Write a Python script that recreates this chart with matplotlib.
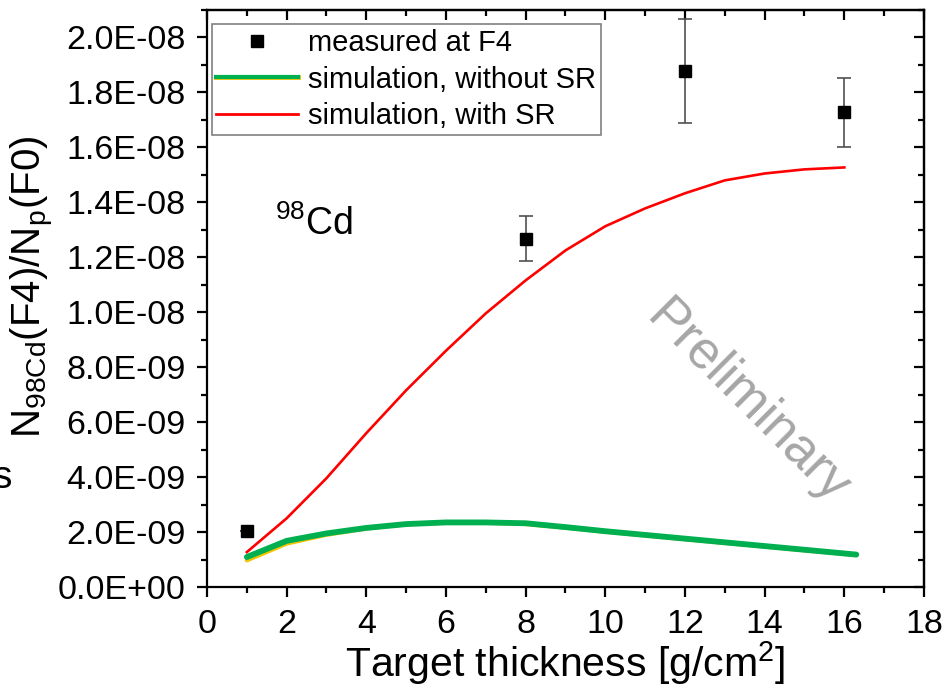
import matplotlib
matplotlib.use("Agg")
import matplotlib.pyplot as plt
from matplotlib.ticker import MultipleLocator, FuncFormatter
from matplotlib.lines import Line2D

plt.rcParams['font.family'] = ['Liberation Sans', 'DejaVu Sans']
plt.rcParams['mathtext.fontset'] = 'custom'
plt.rcParams['mathtext.rm'] = 'Liberation Sans'
plt.rcParams['mathtext.it'] = 'Liberation Sans'

# measured data
meas_x = [1, 8, 12, 16]
meas_y = [2.04e-9, 1.267e-8, 1.878e-8, 1.727e-8]
meas_err = [0.0, 0.082e-8, 0.19e-8, 0.126e-8]

# simulation with SR
sr_x = [1, 2, 3, 4, 5, 6, 7, 8, 9, 10, 11, 12, 13, 14, 15, 16]
sr_y = [1.27e-9, 2.5e-9, 3.96e-9, 5.6e-9, 7.16e-9, 8.6e-9, 9.96e-9, 1.116e-8,
        1.225e-8, 1.313e-8, 1.378e-8, 1.433e-8, 1.48e-8, 1.505e-8, 1.52e-8, 1.527e-8]

# simulation without SR (two overlapping curves)
nosr_x = [1, 2, 3, 4, 5, 6, 7, 8, 9, 10, 12, 14, 16.3]
nosr_y_green = [1.09e-9, 1.68e-9, 1.95e-9, 2.15e-9, 2.29e-9, 2.35e-9, 2.35e-9, 2.32e-9,
                2.18e-9, 2.03e-9, 1.76e-9, 1.49e-9, 1.18e-9]
nosr_y_yellow = [0.97e-9, 1.58e-9, 1.9e-9, 2.13e-9, 2.28e-9, 2.34e-9, 2.34e-9, 2.29e-9,
                 2.16e-9, 2.01e-9, 1.74e-9, 1.47e-9, 1.16e-9]

fig = plt.figure(figsize=(9.53, 6.95), dpi=100)
ax = fig.add_axes([207/953, 1-587/695, (924-207)/953, (587-10)/695])

ax.plot(sr_x, sr_y, color='#ff0000', lw=1.9, zorder=3)
ax.plot(nosr_x, nosr_y_yellow, color='#f5c400', lw=3.0, zorder=3, solid_capstyle='round')
ax.plot(nosr_x, nosr_y_green, color='#00b050', lw=4.2, zorder=4, solid_capstyle='round')
ax.errorbar(meas_x, meas_y, yerr=meas_err, fmt='s', color='black', ms=9,
            ecolor='#505050', elinewidth=1.2, capsize=5, capthick=1.2, zorder=5)

ax.set_xlim(0, 18)
ax.set_ylim(0, 2.1e-8)
ax.xaxis.set_major_locator(MultipleLocator(2))
ax.xaxis.set_minor_locator(MultipleLocator(1))
ax.yaxis.set_major_locator(MultipleLocator(2e-9))
ax.yaxis.set_minor_locator(MultipleLocator(1e-9))

def yfmt(v, pos):
    return "%.1E" % v
ax.yaxis.set_major_formatter(FuncFormatter(yfmt))

for sp in ax.spines.values():
    sp.set_linewidth(1.6)
ax.tick_params(which='both', labelsize=24.5, width=1.6)
ax.tick_params(axis='x', which='both', direction='out', top=False)
ax.tick_params(axis='y', which='both', direction='out', right=False)
ax.tick_params(which='major', length=7)
ax.tick_params(which='minor', length=4)
ax.tick_params(axis='x', pad=8.5)
ax.tick_params(axis='y', pad=8.5)
# mirrored ticks inward on top/right
ax2 = ax.secondary_xaxis('top')
ax2.xaxis.set_major_locator(MultipleLocator(2))
ax2.xaxis.set_minor_locator(MultipleLocator(1))
ax2.tick_params(which='both', direction='in', labeltop=False, width=1.6)
ax2.tick_params(which='major', length=7)
ax2.tick_params(which='minor', length=4)
ax3 = ax.secondary_yaxis('right')
ax3.yaxis.set_major_locator(MultipleLocator(2e-9))
ax3.yaxis.set_minor_locator(MultipleLocator(1e-9))
ax3.tick_params(which='both', direction='in', labelright=False, width=1.6)
ax3.tick_params(which='major', length=7)
ax3.tick_params(which='minor', length=4)
ax2.spines['top'].set_linewidth(1.6)
ax3.spines['right'].set_linewidth(1.6)

ax.set_xlabel("Target thickness [g/cm$^2$]", fontsize=29.5, labelpad=0)
ax.set_ylabel("N$_{98Cd}$(F4)/N$_p$(F0)", fontsize=29)
ax.yaxis.set_label_coords(-0.21, 0.52)

ax.text(1.7, 1.28e-8, "$^{98}$Cd", fontsize=27, ha='left', va='baseline')
ax.text(13.58, 6.7e-9, "Preliminary", fontsize=38, color='#a6a6a6', rotation=-45,
        ha='center', va='center', rotation_mode='anchor', zorder=1)

fig.text(12/953, 1-488/695, "s", fontsize=28, ha='right', va='baseline')

h_meas = Line2D([], [], marker='s', color='black', ls='none', ms=9)
h_y = Line2D([], [], color='#f5c400', lw=3.5)
h_g = Line2D([], [], color='#00b050', lw=3.0)
h_r = Line2D([], [], color='#ff0000', lw=2.0)
leg = ax.legend([h_meas, (h_y, h_g), h_r],
                ["measured at F4", "simulation, without SR", "simulation, with SR"],
                loc='upper left', bbox_to_anchor=(0.007, 0.975), fontsize=21,
                frameon=True, fancybox=False, edgecolor='#808080', framealpha=1,
                borderpad=0.15, labelspacing=0.3, handlelength=2.8, handletextpad=0.35,
                borderaxespad=0)
leg.get_frame().set_linewidth(1.2)

fig.savefig("out.png", dpi=100)
